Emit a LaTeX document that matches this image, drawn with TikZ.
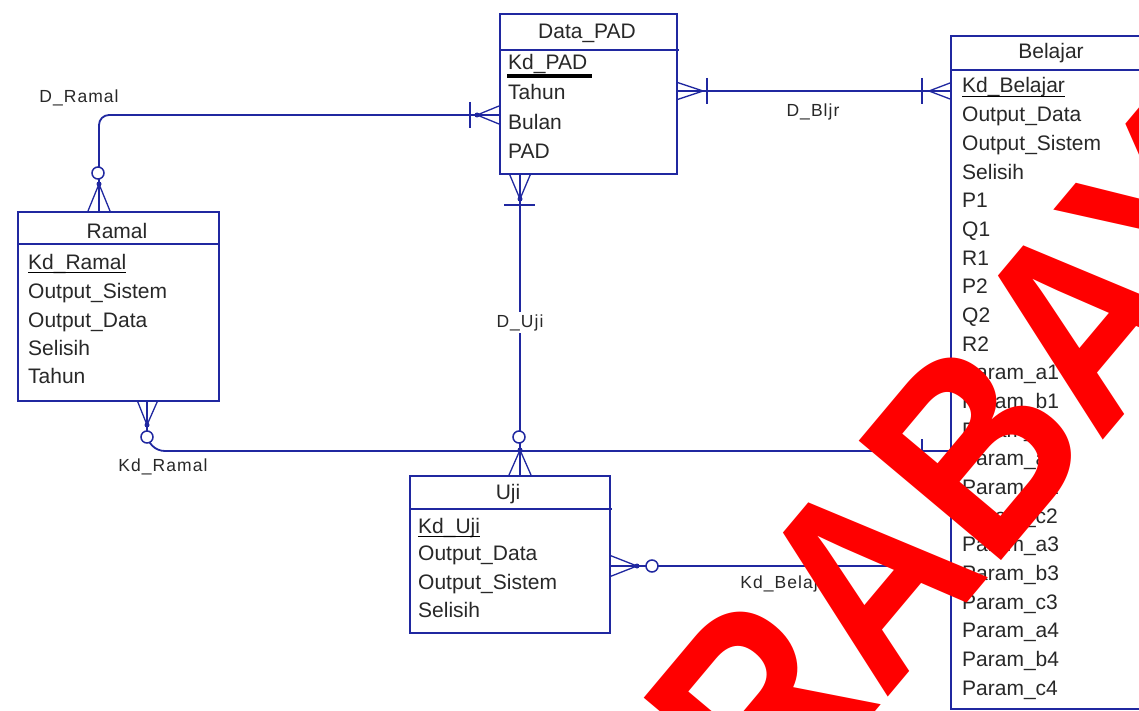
\documentclass[tikz,border=0pt]{standalone}
\usepackage{fontspec}
\setmainfont{Liberation Sans}
\newfontfamily\lblfont[LetterSpace=6]{Liberation Sans}
\usetikzlibrary{calc}
\definecolor{erblue}{RGB}{32,40,160}
\definecolor{ertext}{RGB}{40,40,40}
\definecolor{wmred}{RGB}{255,0,0}
\begin{document}
\begin{tikzpicture}[x=1pt,y=-1pt,
  ent/.style={draw=erblue, line width=1.8pt, rectangle, inner sep=0pt, anchor=north west},
  sepline/.style={draw=erblue, line width=1.8pt},
  attr/.style={font=\fontsize{21}{25}\selectfont, text=ertext, inner sep=0pt, anchor=base west},
  ttl/.style={font=\fontsize{21}{25}\selectfont, text=ertext, inner sep=0pt, anchor=base},
  lbl/.style={font=\lblfont\fontsize{17.5}{21}\selectfont, text=ertext, fill=white, inner sep=2pt, anchor=base},
  conn/.style={draw=erblue, line width=1.8pt},
  prong/.style={draw=erblue, line width=1.3pt},
  barline/.style={draw=erblue, line width=1.8pt},
  ring/.style={draw=erblue, line width=1.5pt, fill=white},
  jdot/.style={fill=erblue},
  keyline/.style={draw=black, line width=1.2pt},
  wmark/.style={font=\bfseries\fontsize{270}{300}\selectfont, text=wmred, inner sep=0pt, anchor=base west, rotate=50, xscale=0.86},
]
\useasboundingbox (0,0) rectangle (1139,711);
\fill[white] (0,0) rectangle (1139,711);
\begin{scope}
\clip (0,0) rectangle (1139,711);

% ---------- connectors ----------
\coordinate (padR) at (676,91);
\coordinate (belL1) at (950,91);
\coordinate (padL) at (499,115);
\coordinate (ramT) at (99,211);
\coordinate (padB) at (520,173);
\coordinate (ujiT) at (520,475);
\coordinate (ramB) at (147,400);
\coordinate (belL2) at (950,451);
\coordinate (ujiR) at (609,566);
\coordinate (belL3) at (950,566);

% D_Bljr
\draw[conn] (padR) -- (belL1);
\draw[prong] (676,82) -- (703,91) (676,100) -- (703,91);
\draw[barline] (707,78) -- (707,104);
\draw[prong] (950,83) -- (929,91) (950,99) -- (929,91);
\draw[barline] (922,78) -- (922,104);

% D_Ramal
\draw[conn, rounded corners=10pt] (padL) -| (ramT);
\draw[prong] (499,106) -- (477,115) (499,124) -- (477,115);
\fill[jdot] (477,115) circle (2.5);
\draw[barline] (470,102) -- (470,128);
\draw[prong] (99,184) -- (88,211) (99,184) -- (110,211);
\fill[jdot] (99,184) circle (2.5);
\draw[ring] (98,173) circle (6);

% D_Uji
\draw[conn] (padB) -- (ujiT);
\draw[prong] (509,173) -- (520,199) (531,173) -- (520,199);
\fill[jdot] (520,199) circle (2.5);
\draw[barline] (504,205) -- (535,205);

% Kd_Ramal
\draw[conn, rounded corners=18pt] (ramB) |- (belL2);
\draw[prong] (137,400) -- (147,425) (158,400) -- (147,425);
\fill[jdot] (147,425) circle (2.5);
\draw[ring] (147,437) circle (6);
\draw[barline] (922,439) -- (922,464);

% ring/crow at Uji top
\draw[prong] (520,450) -- (509,475) (520,450) -- (531,475);
\fill[jdot] (520,450) circle (2.5);
\draw[ring] (519,437) circle (6);

% Kd_Belajar
\draw[conn] (ujiR) -- (belL3);
\draw[prong] (609,555) -- (637,566) (609,577) -- (637,566);
\fill[jdot] (637,566) circle (2.5);
\draw[ring] (652,566) circle (6);
\draw[barline] (922,554) -- (922,579);

% ---------- labels ----------
\node[lbl] (lRamal) at (79,103) {D\_Ramal};
\node[lbl] (lBljr) at (813,117) {D\_Bljr};
\node[lbl] (lUji) at (520,327) {D\_Uji};
\node[lbl] (lKdR) at (163,471) {Kd\_Ramal};
\node[lbl] (lKdB) at (788,588) {Kd\_Belajar};

% ---------- Data_PAD ----------
\node[ent, fill=white, minimum width=177pt, minimum height=160pt] (pad) at (499,13) {};
\draw[sepline] (499,50) -- (679,50);
\node[ttl] (padT) at (587,39) {Data\_PAD};
\node[attr] (pad1) at (508,70) {Kd\_PAD};
\node[attr] (pad2) at (508,100) {Tahun};
\node[attr] (pad3) at (508,130) {Bulan};
\node[attr] (pad4) at (508,159) {PAD};
\draw[draw=black, line width=4pt] (507,76) -- (592,76);

% ---------- Ramal ----------
\node[ent, fill=white, minimum width=201pt, minimum height=189pt] (ramal) at (17,211) {};
\draw[sepline] (17,244) -- (220,244);
\node[ttl] (ramT0) at (117,239) {Ramal};
\node[attr] (ram1) at (28,269) {Kd\_Ramal};
\node[attr] (ram2) at (28,298) {Output\_Sistem};
\node[attr] (ram3) at (28,327) {Output\_Data};
\node[attr] (ram4) at (28,355) {Selisih};
\node[attr] (ram5) at (28,383) {Tahun};
\draw[keyline] ([yshift=-3.5pt]ram1.base west) -- ([yshift=-3.5pt]ram1.base east);

% ---------- Uji ----------
\node[ent, fill=white, minimum width=200pt, minimum height=157pt] (uji) at (409,475) {};
\draw[sepline] (409,509) -- (612,509);
\node[ttl] (ujiT0) at (508,499) {Uji};
\node[attr] (uji1) at (418,533) {Kd\_Uji};
\node[attr] (uji2) at (418,560) {Output\_Data};
\node[attr] (uji3) at (418,589) {Output\_Sistem};
\node[attr] (uji4) at (418,617) {Selisih};
\draw[keyline] ([yshift=-3.5pt]uji1.base west) -- ([yshift=-3.5pt]uji1.base east);

% ---------- Belajar ----------
\node[ent, fill=white, minimum width=215pt, minimum height=673pt] (bel) at (950,35) {};
\draw[sepline] (950,70) -- (1165,70);
\node[ttl] (belT0) at (1051,59) {Belajar};
\foreach \t [count=\i from 0] in {Kd\_Belajar, Output\_Data, Output\_Sistem, Selisih, P1, Q1, R1, P2, Q2, R2, Param\_a1, Param\_b1, Param\_c1, Param\_a2, Param\_b2, Param\_c2, Param\_a3, Param\_b3, Param\_c3, Param\_a4, Param\_b4, Param\_c4}
  \node[attr] (bel\i) at (962,93+28.67*\i) {\t};
\draw[keyline] ([yshift=-3.5pt]bel0.base west) -- ([yshift=-3.5pt]bel0.base east);

% ---------- watermark ----------
\node[wmark] (wm) at (569,1077) {SURABAYA};
\end{scope}
\end{tikzpicture}
\end{document}
